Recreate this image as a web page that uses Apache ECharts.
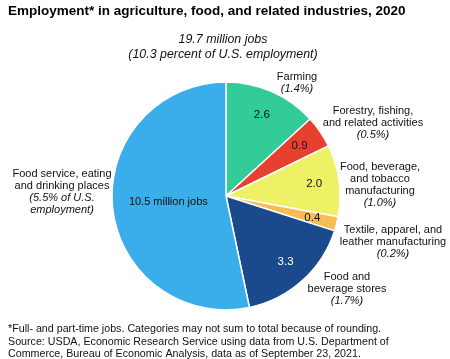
<!DOCTYPE html>
<html>
<head>
<meta charset="utf-8">
<script src="https://cdn.jsdelivr.net/npm/echarts@6/dist/echarts.min.js"></script>
<style>
html,body{margin:0;padding:0;background:#fff;}
#chart{width:450px;height:359px;}
</style>
</head>
<body>
<div id="chart"></div>
<script>
const categories = [
  'Farming',
  'Forestry, fishing,\nand related activities',
  'Food, beverage,\nand tobacco\nmanufacturing',
  'Textile, apparel, and\nleather manufacturing',
  'Food and\nbeverage stores',
  'Food service, eating\nand drinking places'
];
const values = [2.6, 0.9, 2.0, 0.4, 3.3, 10.5];
const valueLabels = ['2.6', '0.9', '2.0', '0.4', '3.3', '10.5 million jobs'];
const shareLabels = ['(1.4%)', '(0.5%)', '(1.0%)', '(0.2%)', '(1.7%)', '(5.5% of U.S.\nemployment)'];
const colors = ['#33cc99', '#e8402f', '#eef065', '#f8bb55', '#1a4a8c', '#3aaeea'];

const FONT = 'Liberation Sans, Arial, sans-serif';
const outerPos = [[297, 83], [373, 123], [380, 185], [393, 242], [347, 289], [62, 192]];

const chart = echarts.init(document.getElementById('chart'), null, {renderer: 'canvas'});

const rich = {
  n: {fontFamily: FONT, fontSize: 11, color: '#111', lineHeight: 12},
  p: {fontFamily: FONT, fontSize: 11, color: '#111', fontStyle: 'italic', lineHeight: 12}
};

function richLabel(i) {
  const a = categories[i].split('\n').map(l => '{n|' + l + '}');
  const b = shareLabels[i].split('\n').map(l => '{p|' + l + '}');
  return a.concat(b).join('\n');
}

const option = {
  animation: false,
  title: [
    {text: 'Employment* in agriculture, food, and related industries, 2020', left: 3, top: -1,
     textStyle: {fontFamily: FONT, fontSize: 13.5, fontWeight: 'bold', color: '#000'}},
    {text: '19.7 million jobs\n(10.3 percent of U.S. employment)', left: 218, top: 27, textAlign: 'center',
     textStyle: {fontFamily: FONT, fontSize: 12.4, fontStyle: 'italic', fontWeight: 'normal', color: '#111', lineHeight: 15}},
    {text: '*Full- and part-time jobs. Categories may not sum to total because of rounding.\nSource: USDA, Economic Research Service using data from U.S. Department of\nCommerce, Bureau of Economic Analysis, data as of September 23, 2021.',
     left: 3, top: 318,
     textStyle: {fontFamily: FONT, fontSize: 10.7, fontWeight: 'normal', color: '#111', lineHeight: 12.5}}
  ],
  series: [
    {
      type: 'pie', center: [226, 196], radius: [0, 114], startAngle: 90, clockwise: true,
      silent: true,
      itemStyle: {borderColor: '#fff', borderWidth: 1.5},
      label: {show: false},
      labelLine: {show: false},
      data: values.map((v, i) => ({
        value: v, name: categories[i], itemStyle: {color: colors[i]},
        label: i === 5 ? {show: true, position: 'inside', formatter: valueLabels[i],
          fontFamily: FONT, fontSize: 11, color: '#111', offset: [2, 0]} : {show: false}
      }))
    },
    {
      type: 'pie', center: [226, 196], radius: [0, 172], startAngle: 90, clockwise: true,
      silent: true,
      itemStyle: {color: 'rgba(0,0,0,0)', borderWidth: 0},
      labelLine: {show: false},
      data: values.map((v, i) => ({
        value: v, name: categories[i],
        label: i === 5 ? {show: false} : {show: true, position: 'inside', formatter: valueLabels[i],
          fontFamily: FONT, fontSize: 11.5, color: i === 4 ? '#fff' : '#111'}
      }))
    },
    {
      type: 'pie', center: [226, 196], radius: [0, 114], startAngle: 90, clockwise: true,
      silent: true,
      itemStyle: {color: 'rgba(0,0,0,0)', borderWidth: 0},
      labelLine: {show: false},
      label: {show: true, position: 'outside', alignTo: 'none', overflow: 'none', align: 'center', rich: rich},
      labelLayout: function (params) {
        const p = outerPos[params.dataIndex];
        return {x: p[0], y: p[1], align: 'center', verticalAlign: 'middle'};
      },
      data: values.map((v, i) => ({
        value: v, name: categories[i],
        label: {formatter: richLabel(i), overflow: 'none', width: 200}
      }))
    }
  ]
};
chart.setOption(option);
</script>
</body>
</html>
